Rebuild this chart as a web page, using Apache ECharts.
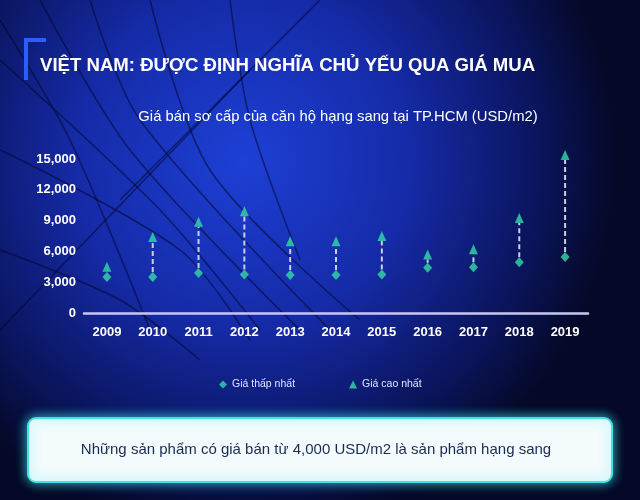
<!DOCTYPE html>
<html><head><meta charset="utf-8">
<script src="https://cdn.jsdelivr.net/npm/echarts@6/dist/echarts.min.js"></script>
<style>html,body{margin:0;padding:0;background:#060a2a;}#c{width:640px;height:500px;}</style>
</head><body><div id="c"></div>
<script>
var years = ['2009','2010','2011','2012','2013','2014','2015','2016','2017','2018','2019'];
var minPrice = [3500, 3500, 3900, 3750, 3700, 3700, 3750, 4400, 4450, 4950, 5450];
var maxPrice = [4500, 7400, 8900, 9900, 7000, 7000, 7500, 5700, 6200, 9250, 15400];
var yTicks = [0, 3000, 6000, 9000, 12000, 15000];
var titleText = 'VIỆT NAM: ĐƯỢC ĐỊNH NGHĨA CHỦ YẾU QUA GIÁ MUA';
var subtitleText = 'Giá bán sơ cấp của căn hộ hạng sang tại TP.HCM (USD/m2)';
var legendMin = 'Giá thấp nhất';
var legendMax = 'Giá cao nhất';
var noteText = 'Những sản phẩm có giá bán từ 4,000 USD/m2 là sản phẩm hạng sang';

var chart = echarts.init(document.getElementById('c'));
var rangeData = years.map(function(y, i){ return [i, minPrice[i], maxPrice[i]]; });
var markerColor = '#34dba6';
var darkLine = 'rgba(3,6,40,0.55)';
var deco = [
  [[40,0],[130,150],[300,330]],
  [[0,60],[160,210],[260,330]],
  [[90,0],[140,120],[330,330]],
  [[0,150],[180,250],[250,340]],
  [[150,0],[210,170],[360,320]],
  [[0,250],[120,300],[200,360]],
  [[230,0],[250,120],[300,260]],
  [[0,20],[70,140],[150,330]],
  [[120,200],[320,0]],
  [[0,330],[250,70]]
];
var graphics = [
  {type:'rect', shape:{x:24,y:38,width:4,height:42}, style:{fill:'#2d5cff'}, z:10},
  {type:'rect', shape:{x:24,y:38,width:22,height:4}, style:{fill:'#2d5cff'}, z:10},
  {type:'rect', shape:{x:28,y:418,width:584,height:64,r:8},
   style:{fill:'#f3fbfc', stroke:'#3fe3e6', lineWidth:2, shadowBlur:12, shadowColor:'rgba(60,230,235,0.8)'}, z:10},
  {type:'text', x:316, y:450, style:{text:noteText, fill:'#1b2a55', font:'15px "Liberation Sans", Arial, sans-serif', align:'center', verticalAlign:'middle'}, z:11}
];
deco.forEach(function(p){
  graphics.push({type:'polyline', shape:{points:p, smooth:0.3}, style:{stroke:darkLine, lineWidth:1.5, fill:null}, z:0, silent:true});
});

chart.setOption({
  backgroundColor: {type:'radial', x:0.38, y:0.32, r:0.75, colorStops:[
    {offset:0, color:'#1d40d6'}, {offset:0.45, color:'#152aa6'}, {offset:0.8, color:'#0a145a'}, {offset:1, color:'#050826'}]},
  textStyle: {fontFamily:'"Liberation Sans", Arial, sans-serif'},
  title: [
    {text:titleText, left:35, top:51, textStyle:{color:'#ffffff', fontSize:18.6, fontWeight:'bold'}},
    {text:subtitleText, left:333, top:104, textAlign:'center', textStyle:{color:'#ffffff', fontSize:14.8, fontWeight:'normal'}}
  ],
  legend: {
    left: 214, top: 374, itemWidth: 8, itemHeight: 8, itemGap: 54,
    textStyle: {color:'#dfe6ff', fontSize:10.5},
    data: [{name:legendMin, icon:'diamond'}, {name:legendMax, icon:'triangle'}]
  },
  grid: {left:84, right:52, top:159, bottom:187, containLabel:false},
  xAxis: {
    type:'category', data: years, boundaryGap:true,
    axisLine:{lineStyle:{color:'#c9c8f2', width:2.5}},
    axisTick:{show:false},
    axisLabel:{color:'#ffffff', fontSize:13, fontWeight:'bold', margin:13}
  },
  yAxis: {
    type:'value', min:yTicks[0], max:yTicks[yTicks.length-1], interval:3000,
    axisLine:{show:false}, axisTick:{show:false}, splitLine:{show:false},
    axisLabel:{color:'#ffffff', fontSize:13, fontWeight:'bold', margin:8,
      formatter:function(v){ return v.toLocaleString('en-US'); }}
  },
  series: [
    {
      type:'custom', name:'range', clip:false, z:2, silent:true,
      renderItem: function(params, api){
        var lo = api.coord([api.value(0), api.value(1)]);
        var hi = api.coord([api.value(0), api.value(2)]);
        return {type:'line', shape:{x1:lo[0], y1:lo[1]-5, x2:hi[0], y2:hi[1]+5},
          style:{stroke:'#c9cde6', lineWidth:2, lineDash:[5,3]}};
      },
      data: rangeData
    },
    {type:'scatter', name:legendMin, symbol:'diamond', symbolSize:[9,10], clip:false, z:3,
      itemStyle:{color:markerColor}, data: minPrice},
    {type:'scatter', name:legendMax, symbol:'triangle', symbolSize:[9,10], clip:false, z:3,
      itemStyle:{color:markerColor}, data: maxPrice}
  ],
  graphic: graphics
});
</script></body></html>
